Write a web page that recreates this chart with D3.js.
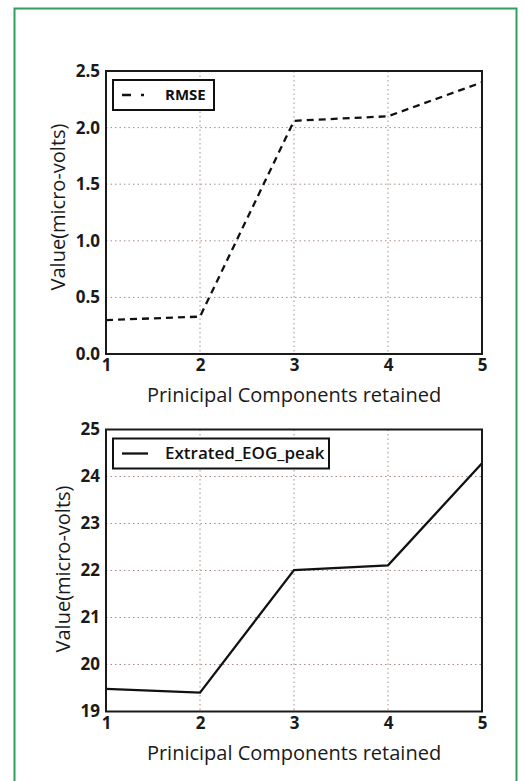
<!DOCTYPE html>
<html>
<head>
<meta charset="utf-8">
<script src="https://cdn.jsdelivr.net/npm/d3@7"></script>
<style>
  html, body { margin: 0; padding: 0; background: #fff; }
  svg { display: block; }
  .tick text { font-family: "Open Sans", sans-serif; font-weight: 700; font-size: 17px; fill: #1a1a1a; }
  .axis-label { font-family: "Open Sans", sans-serif; font-weight: 500; font-size: 20px; fill: #1a1a1a; }
</style>
</head>
<body>
<svg id="fig" width="524" height="781"></svg>
<script>
// Principal components retained (x axis)
const components = [1, 2, 3, 4, 5];
// Reconstruction error for each number of components
const rmseValues = [0.30, 0.33, 2.06, 2.10, 2.40];
// Extracted EOG peak amplitude for each number of components
const eogPeakValues = [19.48, 19.40, 22.01, 22.11, 24.28];
// Tick labels
const xTicks = [1, 2, 3, 4, 5];
const rmseTicks = [0.0, 0.5, 1.0, 1.5, 2.0, 2.5];
const eogTicks = [19, 20, 21, 22, 23, 24, 25];

const svg = d3.select("#fig");

// outer green frame around the figure
svg.append("rect")
  .attr("x", 14.5).attr("y", 8.5)
  .attr("width", 502).attr("height", 790)
  .attr("fill", "#fff")
  .attr("stroke", "#2f9e5f").attr("stroke-width", 2);

const panelX = [106, 482];

function panel(opts) {
  const x = d3.scaleLinear().domain([1, 5]).range(panelX);
  const y = d3.scaleLinear().domain(opts.yDomain).range([opts.bottom, opts.top]);
  const g = svg.append("g");

  // dotted grid
  const grid = g.append("g");
  grid.selectAll("line.gx").data(xTicks.slice(1, -1)).join("line")
    .attr("x1", d => x(d)).attr("x2", d => x(d))
    .attr("y1", opts.top).attr("y2", opts.bottom)
    .attr("stroke", "#a58f86").attr("stroke-width", 1)
    .attr("stroke-dasharray", "1.5,3");
  grid.selectAll("line.gy").data(opts.yTicks.slice(1, -1)).join("line")
    .attr("y1", d => y(d)).attr("y2", d => y(d))
    .attr("x1", panelX[0]).attr("x2", panelX[1])
    .attr("stroke", "#a58f86").attr("stroke-width", 1)
    .attr("stroke-dasharray", "1.5,3");

  // data line
  const line = d3.line().x((d, i) => x(components[i])).y(d => y(d));
  g.append("path")
    .datum(opts.values)
    .attr("d", line)
    .attr("fill", "none")
    .attr("stroke", "#111")
    .attr("stroke-width", 2.3)
    .attr("stroke-dasharray", opts.dash || null);

  // axes
  const xAxis = g.append("g")
    .attr("transform", `translate(0,${opts.bottom})`)
    .call(d3.axisBottom(x).tickValues(xTicks).tickFormat(d3.format("d")).tickSize(0).tickPadding(5));
  xAxis.select(".domain").remove();
  xAxis.selectAll(".tick text").attr("dy", "0.72em");

  const yAxis = g.append("g")
    .attr("transform", `translate(${panelX[0]},0)`)
    .call(d3.axisLeft(y).tickValues(opts.yTicks).tickFormat(opts.fmt).tickSize(0).tickPadding(6));
  yAxis.select(".domain").remove();

  // frame
  g.append("rect")
    .attr("x", panelX[0]).attr("y", opts.top)
    .attr("width", panelX[1] - panelX[0]).attr("height", opts.bottom - opts.top)
    .attr("fill", "none").attr("stroke", "#1a1a1a").attr("stroke-width", 2);

  // legend
  const lg = g.append("g");
  lg.append("rect")
    .attr("x", 113).attr("y", opts.top + 9)
    .attr("width", opts.legendW).attr("height", 30)
    .attr("fill", "#fff").attr("stroke", "#111").attr("stroke-width", 2);
  lg.append("line")
    .attr("x1", 122).attr("x2", 148)
    .attr("y1", opts.top + 24).attr("y2", opts.top + 24)
    .attr("stroke", "#111").attr("stroke-width", 2.3)
    .attr("stroke-dasharray", opts.legendDash || null);
  lg.append("text")
    .attr("x", 165).attr("y", opts.top + 24).attr("dy", "0.35em")
    .attr("font-family", "Open Sans, sans-serif")
    .attr("font-weight", opts.legendWeight)
    .attr("font-size", opts.legendSize)
    .attr("fill", "#111")
    .text(opts.label);

  // axis titles
  svg.append("text").attr("class", "axis-label")
    .attr("x", (panelX[0] + panelX[1]) / 2).attr("y", opts.bottom + 41)
    .attr("text-anchor", "middle").attr("dy", "0.35em")
    .text("Prinicipal Components retained");
  svg.append("text").attr("class", "axis-label")
    .attr("transform", `translate(${opts.ylabelX},${opts.ylabelY}) rotate(-90)`)
    .attr("text-anchor", "middle").attr("dy", "0.35em")
    .text("Value(micro-volts)");
}

panel({
  top: 71, bottom: 354, yDomain: [0, 2.5], yTicks: rmseTicks, fmt: d3.format(".1f"),
  values: rmseValues, dash: "7,5", legendDash: "9,10,3,20",
  label: "RMSE", legendW: 101, legendWeight: 700, legendSize: 15, ylabelX: 58, ylabelY: 207
});

panel({
  top: 429.5, bottom: 711.5, yDomain: [19, 25], yTicks: eogTicks, fmt: d3.format("d"),
  values: eogPeakValues, dash: null, legendDash: null,
  label: "Extrated_EOG_peak", legendW: 216, legendWeight: 600, legendSize: 17, ylabelX: 63, ylabelY: 569
});
</script>
</body>
</html>
